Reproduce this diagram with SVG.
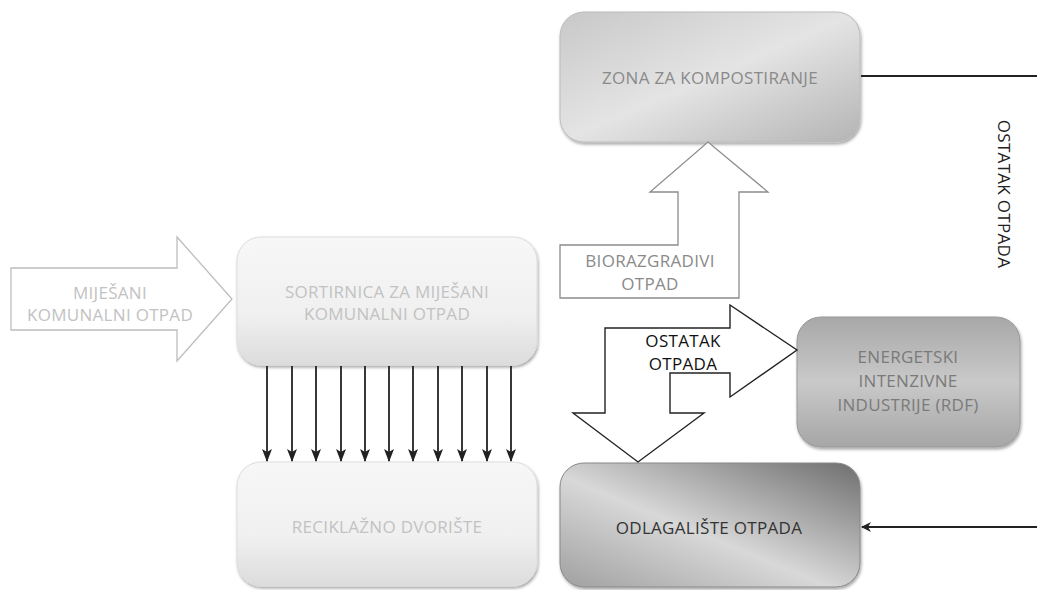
<svg xmlns="http://www.w3.org/2000/svg" width="1037" height="590" viewBox="0 0 1037 590">
  <style>
    .t { font-family: "Open Sans", "Liberation Sans", sans-serif; font-size: 17px; letter-spacing: 0.3px; text-anchor: middle; }
    .light { fill: #c2c2c2; }
    .mid { fill: #8a8a8a; }
    .dark { fill: #333333; }
    .bigarrow { fill: #ffffff; stroke-linejoin: miter; }
    .conn { stroke: #222222; stroke-width: 1.8; fill: none; }
  </style>
  <defs>
    <filter id="shadow" x="-10%" y="-10%" width="120%" height="130%">
      <feDropShadow dx="1" dy="2" stdDeviation="1.5" flood-color="#000" flood-opacity="0.35"/>
    </filter>
    <linearGradient id="gLight" x1="0" y1="0" x2="0" y2="1">
      <stop offset="0" stop-color="#f7f7f7"/>
      <stop offset="0.6" stop-color="#f0f0f0"/>
      <stop offset="1" stop-color="#dcdcdc"/>
    </linearGradient>
    <linearGradient id="gZona" x1="0" y1="0" x2="1" y2="1">
      <stop offset="0" stop-color="#c8c8c8"/>
      <stop offset="0.5" stop-color="#e4e4e4"/>
      <stop offset="1" stop-color="#b4b4b4"/>
    </linearGradient>
    <linearGradient id="gEnerg" x1="0" y1="0" x2="0" y2="1">
      <stop offset="0" stop-color="#a8a8a8"/>
      <stop offset="0.5" stop-color="#c9c9c9"/>
      <stop offset="1" stop-color="#a6a6a6"/>
    </linearGradient>
    <linearGradient id="gOdl" x1="0" y1="1" x2="1" y2="0">
      <stop offset="0" stop-color="#a0a0a0"/>
      <stop offset="0.45" stop-color="#d8d8d8"/>
      <stop offset="1" stop-color="#6e6e6e"/>
    </linearGradient>
    <marker id="ah" viewBox="0 0 13 10" refX="12" refY="5" markerWidth="13" markerHeight="10" orient="auto" markerUnits="userSpaceOnUse">
      <path d="M0,0 L13,5 L0,10 L3,5 Z" fill="#222222"/>
    </marker>
    <marker id="ah2" viewBox="0 0 10 10" refX="9" refY="5" markerWidth="10" markerHeight="10" orient="auto" markerUnits="userSpaceOnUse">
      <path d="M0,0 L10,5 L0,10 L3,5 Z" fill="#222222"/>
    </marker>
  </defs>

  <!-- input arrow: mixed municipal waste -->
  <g id="arrow-input">
    <polygon class="bigarrow" stroke="#bdbdbd" stroke-width="1.3" points="11,268 177,268 177,237 232,299 177,361 177,330 11,330"/>
    <text class="t light" x="110" y="299">MIJEŠANI</text>
    <text class="t light" x="110" y="321">KOMUNALNI OTPAD</text>
  </g>

  <!-- sorting plant -->
  <g id="node-sortirnica">
    <rect x="237" y="237" width="300" height="128" rx="24" fill="url(#gLight)" stroke="#dddddd" filter="url(#shadow)"/>
    <text class="t light" x="387" y="298">SORTIRNICA ZA MIJEŠANI</text>
    <text class="t light" x="387" y="320">KOMUNALNI OTPAD</text>
  </g>

  <!-- recycling yard -->
  <g id="node-reciklazno">
    <rect x="237" y="462" width="300" height="124" rx="24" fill="url(#gLight)" stroke="#dddddd" filter="url(#shadow)"/>
    <text class="t light" x="387" y="533">RECIKLAŽNO DVORIŠTE</text>
  </g>

  <!-- composting zone -->
  <g id="node-zona">
    <rect x="560" y="12" width="300" height="130" rx="24" fill="url(#gZona)" stroke="#bbbbbb" filter="url(#shadow)"/>
    <text class="t mid" x="710" y="84">ZONA ZA KOMPOSTIRANJE</text>
  </g>

  <!-- energy intensive industries -->
  <g id="node-energetski">
    <rect x="797" y="317" width="223" height="130" rx="24" fill="url(#gEnerg)" stroke="#999999" filter="url(#shadow)"/>
    <text class="t" fill="#7a7a7a" x="908" y="363">ENERGETSKI</text>
    <text class="t" fill="#7a7a7a" x="908" y="387">INTENZIVNE</text>
    <text class="t" fill="#7a7a7a" x="908" y="411">INDUSTRIJE (RDF)</text>
  </g>

  <!-- landfill -->
  <g id="node-odlagaliste">
    <rect x="560" y="463" width="300" height="124" rx="24" fill="url(#gOdl)" stroke="#888888" filter="url(#shadow)"/>
    <text class="t dark" x="709" y="534">ODLAGALIŠTE OTPADA</text>
  </g>

  <!-- biodegradable waste arrow -->
  <g id="arrow-bio">
    <polygon class="bigarrow" stroke="#8c8c8c" stroke-width="1.3" points="560,245 678,245 678,192 650,192 708,142 768,192 739,192 739,298 560,298"/>
    <text class="t mid" x="650" y="267">BIORAZGRADIVI</text>
    <text class="t mid" x="650" y="290">OTPAD</text>
  </g>

  <!-- residual waste split arrow -->
  <g id="arrow-ostatak">
    <polygon class="bigarrow" stroke="#222222" stroke-width="1.4" points="605,328 730,328 730,305 797,350 730,397 730,373 670,373 670,413 704,413 638,462 573,413 605,413"/>
    <text class="t" fill="#111111" x="683" y="347">OSTATAK</text>
    <text class="t" fill="#111111" x="683" y="370">OTPADA</text>
  </g>

  <!-- connectors -->
  <g id="connectors">
    <line class="conn" x1="267" y1="366" x2="267" y2="461" marker-end="url(#ah)"/>
    <line class="conn" x1="292" y1="366" x2="292" y2="461" marker-end="url(#ah)"/>
    <line class="conn" x1="316" y1="366" x2="316" y2="461" marker-end="url(#ah)"/>
    <line class="conn" x1="341" y1="366" x2="341" y2="461" marker-end="url(#ah)"/>
    <line class="conn" x1="365" y1="366" x2="365" y2="461" marker-end="url(#ah)"/>
    <line class="conn" x1="389" y1="366" x2="389" y2="461" marker-end="url(#ah)"/>
    <line class="conn" x1="413" y1="366" x2="413" y2="461" marker-end="url(#ah)"/>
    <line class="conn" x1="438" y1="366" x2="438" y2="461" marker-end="url(#ah)"/>
    <line class="conn" x1="462" y1="366" x2="462" y2="461" marker-end="url(#ah)"/>
    <line class="conn" x1="487" y1="366" x2="487" y2="461" marker-end="url(#ah)"/>
    <line class="conn" x1="511" y1="366" x2="511" y2="461" marker-end="url(#ah)"/>
    <line class="conn" x1="861" y1="76" x2="1037" y2="76"/>
    <line class="conn" x1="1037" y1="527" x2="862" y2="527" marker-end="url(#ah2)"/>
    <text class="t" fill="#222222" transform="translate(998,194) rotate(90)">OSTATAK OTPADA</text>
  </g>
</svg>
